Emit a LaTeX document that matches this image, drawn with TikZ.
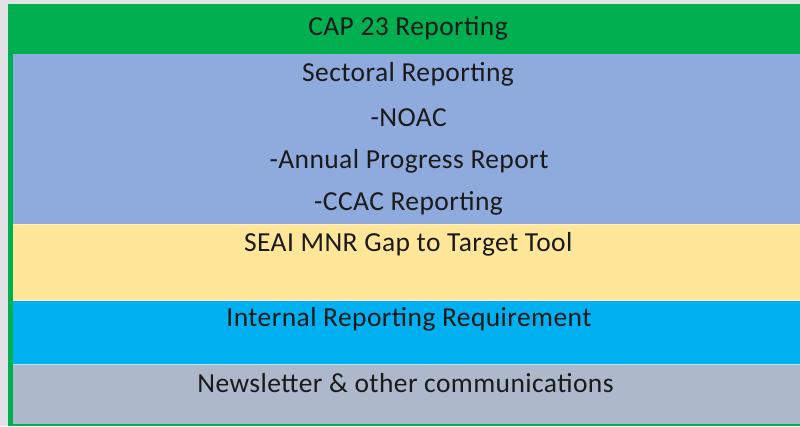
\documentclass[tikz,border=0pt]{standalone}
\usepackage{fontspec}
\setmainfont{Carlito}[LetterSpace=1.5]
\definecolor{bgc}{HTML}{E1E1E6}
\definecolor{hdrgreen}{HTML}{00B050}
\definecolor{bandblue}{HTML}{8FAADC}
\definecolor{bandyellow}{HTML}{FFE699}
\definecolor{bandcyan}{HTML}{00B0F0}
\definecolor{bandgray}{HTML}{ADB9CA}
\definecolor{txt}{HTML}{1A1A1A}
\tikzset{
  lbl/.style={anchor=base, inner sep=0pt, text=txt, font=\fontsize{27.5}{31}\selectfont},
  sep/.style={draw=white, line width=0.8pt, opacity=0.7}
}
\begin{document}
\begin{tikzpicture}[x=1pt,y=-1pt]
\useasboundingbox (0,0) rectangle (800,426);
\fill[bgc] (0,0) rectangle (800,426);
\fill[hdrgreen] (8,4) rectangle (800,426);
\fill[bandblue] (13,53.5) rectangle (800,224.3);
\fill[bandyellow] (13,224.3) rectangle (800,300.7);
\fill[bandcyan] (13,300.7) rectangle (800,364.7);
\fill[bandgray] (13,364.7) rectangle (800,424);
\draw[sep] (13,300.7) -- (800,300.7);
\draw[sep] (13,364.7) -- (800,364.7);
\draw[draw=white, line width=0.6pt, opacity=0.4] (13,224.3) -- (800,224.3);
\node[lbl] (t1) at (408,35) {CAP 23 Reporting};
\node[lbl] (t2) at (408,81) {Sectoral Reporting};
\node[lbl] (t3) at (408.7,126.7) {-NOAC};
\node[lbl] (t4) at (409,168.3) {-Annual Progress Report};
\node[lbl] (t5) at (408.5,210) {-CCAC Reporting};
\node[lbl] (t6) at (408.3,251) {SEAI MNR Gap to Target Tool};
\node[lbl] (t7) at (409,326.7) {Internal Reporting Requirement};
\node[lbl] (t8) at (405.5,392.7) {Newsletter \& other communications};
\end{tikzpicture}
\end{document}
